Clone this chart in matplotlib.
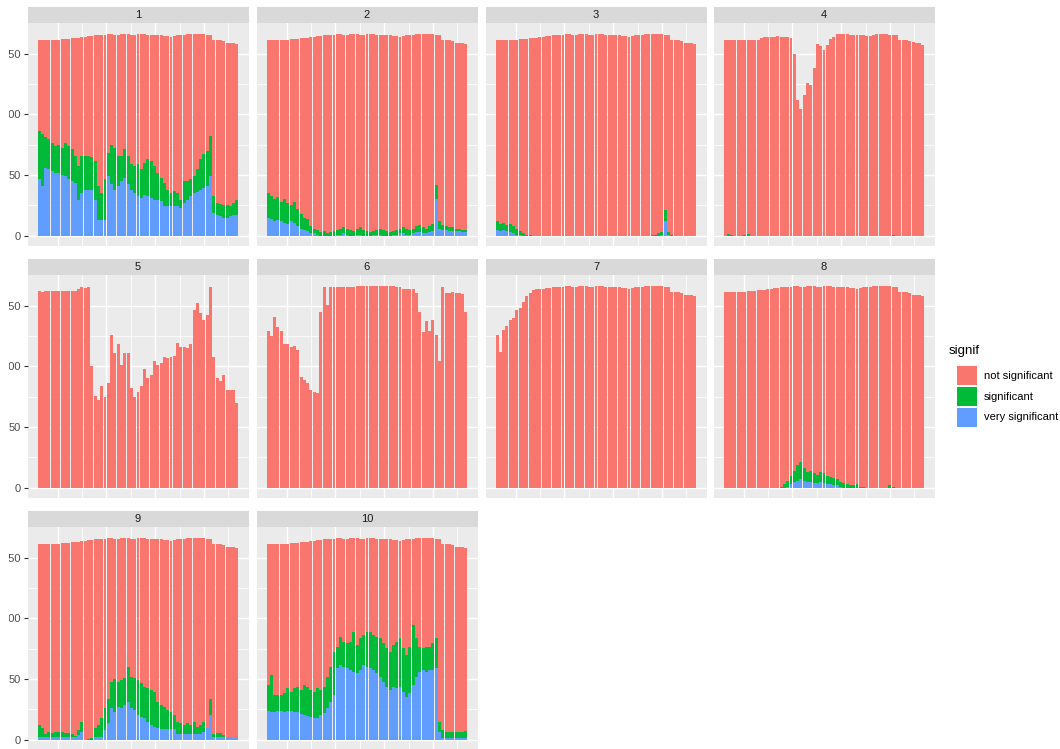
import matplotlib.pyplot as plt
import numpy as np
from matplotlib.patches import Rectangle
from matplotlib.transforms import Bbox, TransformedBbox

plt.rcParams['font.family'] = ['Liberation Sans', 'DejaVu Sans']

# ---- data: stacked counts per window ----
# every panel has 61 windows; "top" arrays are the cumulative boundaries
panel_labels = ['1', '2', '3', '4', '5', '6', '7', '8', '9', '10']
signif_levels = ['not significant', 'significant', 'very significant']

total_common = [161, 161, 161, 161, 161, 161.5, 161.5, 162, 162, 162,
                162.5, 162.5, 162.5, 164, 164, 164.5, 164.5, 165, 165, 165.5,
                165.5, 166, 166, 165.5, 165.5, 166, 166, 166, 165.5, 165.5,
                166, 166, 166, 165.5, 165.5, 165.5, 165, 165, 164.5, 164.5,
                164, 164.5, 165, 165, 165.5, 166, 166.5, 166.5, 166, 166,
                166, 165.5, 165.5, 161, 161, 161, 160.5, 159, 159, 158.5, 157.5]

total_4 = [161, 161, 161, 161, 161, 161, 161, 161, 161, 161,
           161.5, 163, 164, 164, 164, 163.5, 164.5, 164, 164, 164,
           163, 150, 112, 104, 116, 126, 124, 138, 158, 156,
           153, 157, 162, 164, 166, 166, 166, 166, 165.5, 165.5,
           165, 165, 165, 164.5, 164.5, 165.5, 166, 166, 166, 166,
           165.5, 165.5, 165, 161, 161, 161, 160.5, 159.5, 159, 158.5, 157]

total_5 = [162, 161.5, 162, 162, 162, 162, 162, 162, 162, 162,
           162, 162, 164, 165, 164.5, 165, 100, 76, 72.5, 84,
           75, 86, 126, 111, 118, 101, 111, 111, 82, 75,
           79, 83.5, 98, 90, 93, 104, 101, 102.7, 108, 107,
           108, 108.7, 119.6, 116, 116, 115, 118, 146, 152, 143.7,
           138, 142, 165.6, 108, 90, 87.6, 93, 80.8, 80.8, 80.8, 70]

total_6 = [128.7, 125, 141, 132, 128.7, 118, 118, 116, 117, 113.6,
           91, 88.5, 86, 80.5, 79, 78, 145, 165, 150.5, 165.6,
           165, 165, 165.5, 165, 165, 165, 165.5, 166, 166, 166,
           166, 166, 166, 166, 166, 166, 166, 166, 166, 165.6,
           165.6, 163.4, 163.4, 163.4, 163.4, 160, 145, 128, 137, 128.7,
           138, 126, 104, 165.6, 160.7, 160.7, 161.5, 160, 160, 159.6, 145]

total_7 = [126, 112, 130, 133, 138, 140, 146, 148, 153, 158,
           160, 163, 164] + total_common[13:]

green_top_1 = [86.5, 83.7, 81, 79.5, 76.8, 74, 75, 72.6, 76.8, 74,
               71.8, 65.7, 57.5, 65.7, 66, 65.7, 65, 61.6, 41, 35.4,
               46.4, 68.5, 75, 72.6, 65.7, 65.7, 71.3, 65.7, 58.8, 57.5,
               58.8, 54.7, 60.2, 63, 61.6, 57.5, 52, 47.8, 43.6, 38,
               35.4, 36.7, 35.4, 29.8, 45, 45, 46.4, 49, 54.7, 63,
               67, 69.9, 82, 32.6, 27, 26, 25.7, 25, 24.3, 27, 29.8]
blue_top_1 = [47, 41, 56, 55, 53.3, 52, 52, 50, 49, 47,
              45, 43.6, 29.8, 35.4, 38, 38, 38, 29.8, 13.3, 13.3,
              13.3, 49, 42.3, 38, 41, 45, 47.8, 42.3, 38, 35.4,
              32.6, 31.2, 34, 32.6, 31.2, 29.8, 29.8, 28.5, 24.3, 24.9,
              24.3, 24.3, 24.3, 23, 27, 29.8, 32.6, 35.4, 36.5, 38,
              39.5, 41, 49, 18.8, 17.5, 16, 15, 14.6, 16, 17.4, 17.4]

green_top_2 = [35, 33, 30, 32, 28, 30, 27, 25, 28, 22,
               18, 15, 14, 8, 6, 5, 3, 4, 2, 3,
               4, 5, 6, 7, 6, 5, 4, 6, 7, 5,
               4, 3, 4, 5, 6, 5, 4, 3, 4, 5,
               6, 7, 6, 5, 6, 8, 9, 7, 6, 8,
               10, 42, 12, 9, 8, 7, 7, 6, 6, 5, 5]
blue_top_2 = [15, 14, 12, 13, 12, 11, 10, 12, 11, 8,
              6, 5, 4, 2, 2, 1, 0, 0, 0, 0,
              0, 1, 1, 2, 1, 0, 0, 1, 1, 0,
              0, 0, 1, 1, 1, 0, 0, 0, 1, 1,
              2, 2, 1, 1, 2, 3, 3, 2, 2, 3,
              4, 30, 6, 5, 5, 4, 4, 4, 4, 3, 3]

green_top_3 = [12, 10, 11, 9, 10, 8, 6, 4, 2, 1,
               1, 0, 0, 0, 0, 0, 0, 0, 0, 0,
               0, 0, 0, 0, 0, 0, 0, 0, 0, 0,
               0, 0, 0, 0, 0, 0, 0, 0, 0, 0,
               0, 0, 0, 0, 0, 0, 0, 1, 1, 2,
               3, 21, 3, 1, 0, 0, 0, 0, 0, 0, 0]
blue_top_3 = [5, 4, 5, 4, 3, 2, 1, 1, 0, 0,
              0, 0, 0, 0, 0, 0, 0, 0, 0, 0,
              0, 0, 0, 0, 0, 0, 0, 0, 0, 0,
              0, 0, 0, 0, 0, 0, 0, 0, 0, 0,
              0, 0, 0, 0, 0, 0, 0, 0, 0, 0,
              1, 12, 1, 0, 0, 0, 0, 0, 0, 0, 0]

green_top_4 = [0, 1.5, 1, 0, 0, 0, 1, 1.5, 0, 0,
               0, 0, 0, 0, 0, 0, 0, 0, 0, 0,
               0, 0, 0, 0, 0, 0, 0, 0, 0, 0,
               0, 0, 0, 0, 0, 0, 0, 0, 0, 0,
               0, 0, 0, 0, 0, 0, 0, 0, 0, 0,
               0, 1, 0, 0, 0, 0, 0, 0, 0, 0, 0]

green_top_8 = [0, 0, 0, 0, 0, 0, 0, 0, 0, 0,
               0, 0, 0, 0, 0, 0, 0, 1, 3, 6,
               10, 14, 19, 21, 16, 13, 14, 12, 11, 13,
               12, 10, 9, 8, 7, 5, 4, 3, 2, 2,
               3, 1, 1, 0, 0, 0, 0, 0, 0, 0,
               2, 1, 0, 0, 0, 0, 0, 0, 0, 0, 0]
blue_top_8 = [0, 0, 0, 0, 0, 0, 0, 0, 0, 0,
              0, 0, 0, 0, 0, 0, 0, 0, 0, 1,
              3, 5, 6, 7, 6, 5, 5, 4, 4, 5,
              4, 3, 3, 2, 2, 1, 0, 0, 0, 0,
              0, 0, 0, 0, 0, 0, 0, 0, 0, 0,
              0, 0, 0, 0, 0, 0, 0, 0, 0, 0, 0]

green_top_9 = [12.3, 9.6, 4.7, 6.3, 5.5, 6.8, 6.8, 6.3, 5.5, 5.5,
               4.7, 3.6, 8.2, 15, 0, 0.5, 1.4, 9.6, 12.3, 17.8,
               26, 34, 48, 50, 48, 49.3, 50.6, 60, 52, 50.6,
               49.3, 46.5, 43.8, 42.4, 41, 39.7, 31.5, 28.7, 27.4, 24.6,
               23.3, 20.5, 15, 13.7, 12.3, 13.7, 12.3, 15, 11, 12.3,
               15, 9.6, 34, 4.7, 5.5, 5.5, 4, 2.7, 2.2, 1.9, 2.2]
blue_top_9 = [2.2, 2.2, 2.2, 2.2, 2.2, 2.2, 2.2, 2.2, 2.2, 2.2,
              2.2, 2.2, 4, 6.8, 0, 0, 0, 2.7, 2.7, 2.7,
              8.2, 13.7, 26, 23.3, 27.4, 26, 28.7, 31.5, 26, 24.6,
              20.5, 19.2, 17.8, 15, 12.3, 11, 9.6, 9, 9, 9,
              9, 9, 5, 5, 5, 5, 5, 5, 5, 5,
              6.8, 9.6, 20.5, 2, 2, 2, 2, 2, 2, 2, 2]

green_top_10 = [45, 53, 37, 37, 37, 38.3, 42.4, 39.7, 42.4, 43.8,
                41, 45, 43.8, 41, 39.7, 42.4, 41, 43.8, 52, 60,
                72.5, 76.7, 84.9, 80.8, 79.4, 80.8, 89, 78, 83.5, 86.2,
                89, 89, 86.2, 84.9, 83.5, 79.4, 75.3, 72.5, 78, 80.8,
                83.5, 75.3, 69.8, 76.7, 94.4, 83.5, 76.7, 75.3, 76.7, 76.7,
                79.4, 83.5, 15, 8.2, 6.8, 6.3, 6.3, 6.3, 6.3, 6.3, 7]
blue_top_10 = [23.8, 23, 22.7, 23.8, 23.5, 23.3, 23.8, 23.8, 22.7, 22.7,
               21.5, 20.5, 20, 19.2, 17.8, 17.8, 20.5, 21.9, 26, 31.5,
               37, 58.9, 61.6, 60.2, 58.9, 57.5, 56.1, 54.7, 57.5, 61.6,
               60.2, 58.9, 57.5, 54.7, 52, 47.9, 43.8, 41, 43.8, 42.4,
               43.8, 39.7, 35.6, 38.3, 45, 52, 56.1, 57.5, 56.1, 57.5,
               57.5, 58.9, 6.8, 1.4, 1.4, 1.4, 1.4, 1.4, 1.4, 1.4, 1.4]

zeros = [0] * 61
panel_totals = [total_common, total_common, total_common, total_4, total_5,
                total_6, total_7, total_common, total_common, total_common]
panel_green = [green_top_1, green_top_2, green_top_3, green_top_4, zeros,
               zeros, zeros, green_top_8, green_top_9, green_top_10]
panel_blue = [blue_top_1, blue_top_2, blue_top_3, zeros, zeros,
              zeros, zeros, blue_top_8, blue_top_9, blue_top_10]

# ---- style ----
RED, GREEN, BLUE = '#F8766D', '#00BA38', '#619CFF'
PANEL_BG, STRIP_BG = '#EBEBEB', '#D9D9D9'

W, H = 1060, 749
fig = plt.figure(figsize=(W / 100, H / 100), dpi=100)

col_left = [27.5, 256.5, 485.5, 713.5]
row_top = [23.4, 275.4, 527.4]
pw, ph, strip_h = 221.0, 222.6, 16.5

x = np.arange(1, 62)
ymax = 166.5

# the source screenshot is cropped a few pixels into the y labels
label_clip = TransformedBbox(Bbox([[8.5 / W, 0], [1, 1]]), fig.transFigure)


def px_axes(left, top, w, h):
    return fig.add_axes([left / W, 1 - (top + h) / H, w / W, h / H])


for i, lab in enumerate(panel_labels):
    r, c = divmod(i, 4)
    ax = px_axes(col_left[c], row_top[r], pw, ph)
    ax.set_facecolor(PANEL_BG)

    total = np.array(panel_totals[i], dtype=float)
    gtop = np.array(panel_green[i], dtype=float)
    btop = np.array(panel_blue[i], dtype=float)

    ax.bar(x, btop, width=0.9, color=BLUE, linewidth=0, zorder=3)
    ax.bar(x, gtop - btop, bottom=btop, width=0.9, color=GREEN, linewidth=0, zorder=3)
    ax.bar(x, total - gtop, bottom=gtop, width=0.9, color=RED, linewidth=0, zorder=3)

    span = 61.45 - 0.55
    ax.set_xlim(0.55 - 0.05 * span, 61.45 + 0.05 * span)
    ax.set_ylim(-0.05 * ymax, ymax * 1.05)

    ax.set_xticks([6.6, 21.4, 36.2, 51.0])
    ax.set_xticks([14.0, 28.8, 43.6, 58.4], minor=True)
    ax.set_yticks([0, 50, 100, 150])
    ax.set_yticks([25, 75, 125], minor=True)
    ax.grid(which='major', color='white', linewidth=1.05)
    ax.grid(which='minor', color='white', linewidth=0.55)
    ax.set_axisbelow(True)
    for s in ax.spines.values():
        s.set_visible(False)

    ax.tick_params(axis='x', which='both', length=0, labelbottom=False)
    ax.tick_params(axis='y', which='minor', length=0)
    if c == 0:
        ax.set_yticklabels(['0', '50', '100', '150'])
        ax.tick_params(axis='y', which='major', length=2.7, width=0.8,
                       color='#333333', labelcolor='#4D4D4D', labelsize=8, pad=2)
        for t in ax.yaxis.get_major_ticks():
            t.label1.set_clip_box(label_clip)
            t.label1.set_clip_on(True)
    else:
        ax.tick_params(axis='y', which='major', length=0, labelleft=False)

    # facet strip
    sax = px_axes(col_left[c], row_top[r] - strip_h, pw, strip_h)
    sax.set_facecolor(STRIP_BG)
    sax.set_xticks([])
    sax.set_yticks([])
    for s in sax.spines.values():
        s.set_visible(False)
    sax.text(0.5, 0.5, lab, ha='center', va='center', fontsize=8,
             color='#1A1A1A', transform=sax.transAxes)

# ---- legend ----
fig.text(949 / W, 1 - 351 / H, 'signif', ha='left', va='center',
         fontsize=9.5, color='black')
key_colors = [RED, GREEN, BLUE]
for j, (lvl, col) in enumerate(zip(signif_levels, key_colors)):
    top = 366.5 + j * 20.6
    fig.patches.append(Rectangle((957 / W, 1 - (top + 19) / H), 19.5 / W, 19 / H,
                                 transform=fig.transFigure, facecolor=col,
                                 edgecolor='none'))
    fig.text(984 / W, 1 - (top + 9.5) / H, lvl, ha='left', va='center',
             fontsize=8, color='black')

fig.savefig('out.png', dpi=100, facecolor='white')
